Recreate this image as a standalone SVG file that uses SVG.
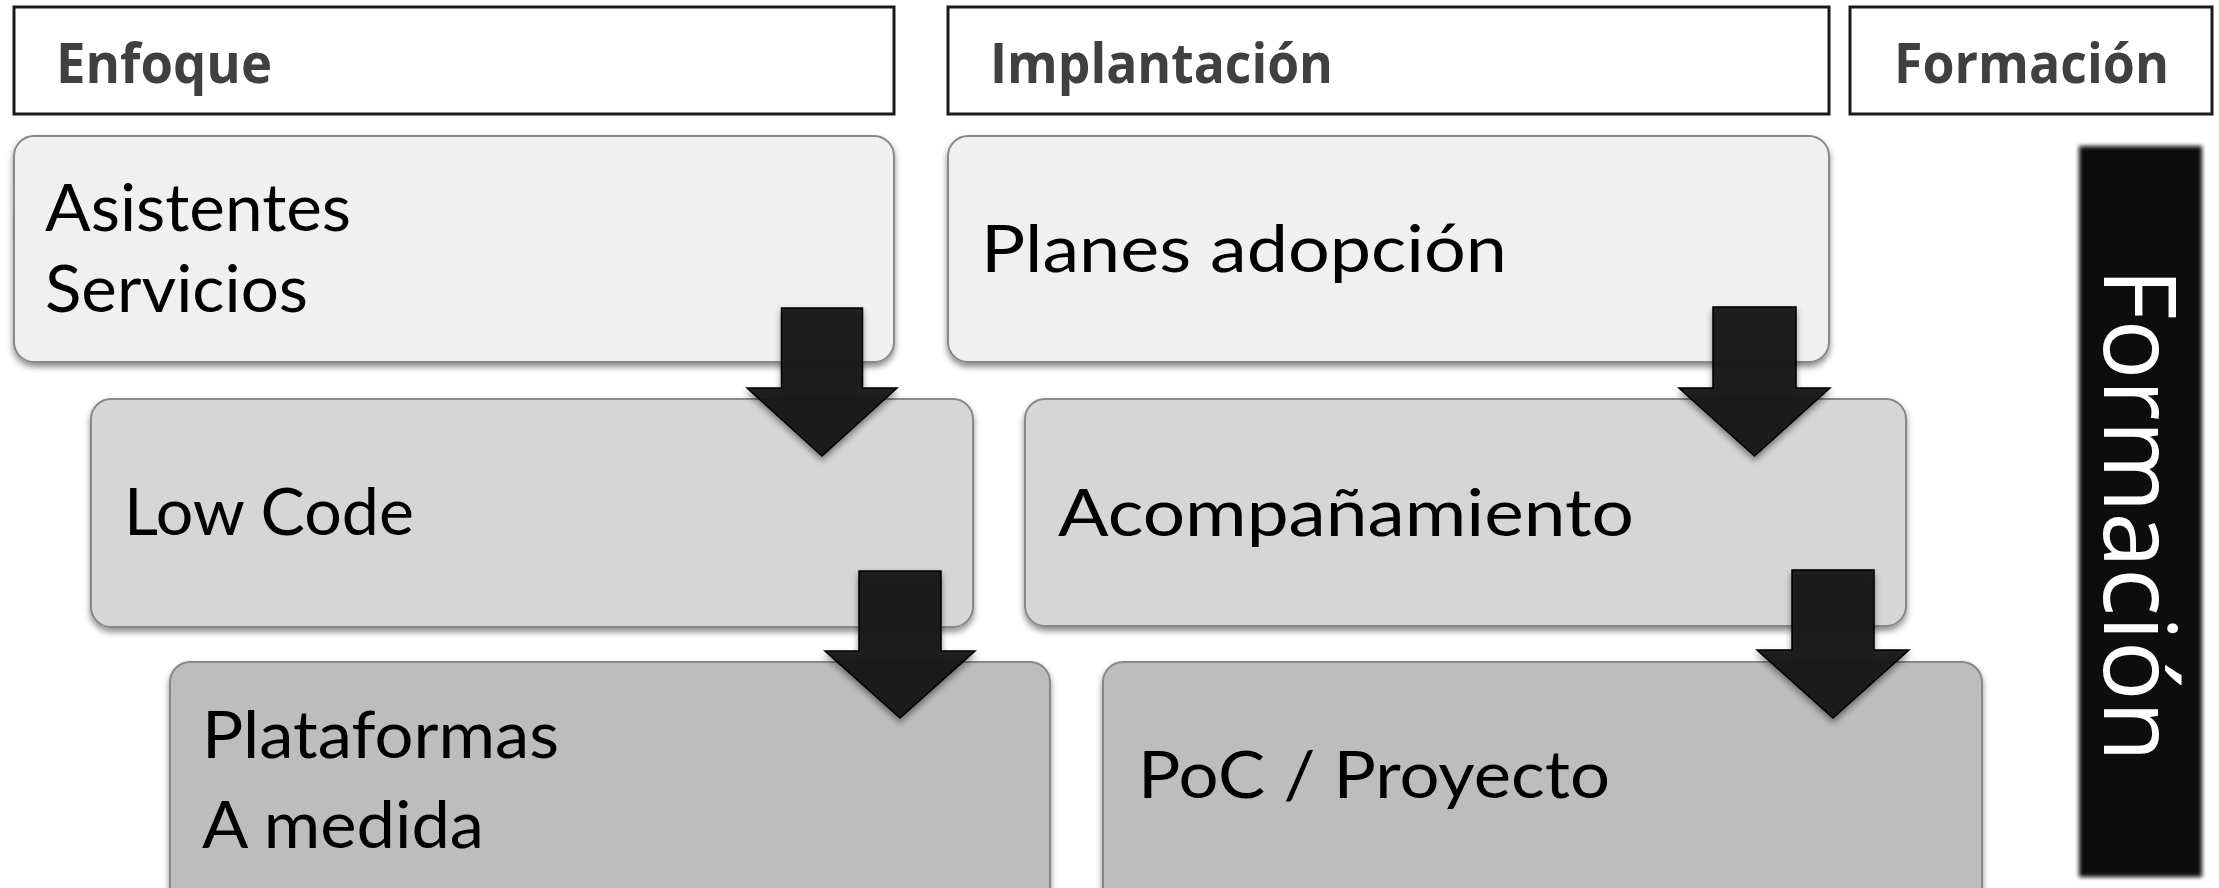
<svg xmlns="http://www.w3.org/2000/svg" width="2219" height="888" viewBox="0 0 2219 888">
<defs>
<filter id="sh" x="-5%" y="-10%" width="110%" height="125%">
<feDropShadow dx="0" dy="4" stdDeviation="3" flood-color="#000" flood-opacity="0.45"/>
</filter>
<filter id="blur" x="-10%" y="-5%" width="120%" height="110%">
<feGaussianBlur stdDeviation="2"/>
</filter>
<style>
.hdr{fill:#fff;stroke:#1a1a1a;stroke-width:3}
.htxt{font-family:"Open Sans","Liberation Sans",sans-serif;font-weight:bold;font-size:55px;fill:#404040}
.box{stroke:#888;stroke-width:2;filter:url(#sh)}
.l1{fill:#f0f0f0}
.l2{fill:#d6d6d6}
.l3{fill:#bdbdbd}
.btxt{font-family:Lato,"Open Sans","Liberation Sans",sans-serif;font-size:66px;fill:#000}
.arr{fill:#151515;fill-opacity:0.95;stroke:#000;stroke-width:1.5;stroke-linejoin:miter;filter:url(#sh)}
</style>
</defs>
<rect width="2219" height="888" fill="#fff"/>

<g id="hdr-enfoque">
<rect class="hdr" x="14" y="7" width="880" height="107"/>
<text class="htxt" x="56" y="83" textLength="216" lengthAdjust="spacingAndGlyphs">Enfoque</text>
</g>
<g id="hdr-implantacion">
<rect class="hdr" x="948" y="7" width="881" height="107"/>
<text class="htxt" x="990" y="83" textLength="343" lengthAdjust="spacingAndGlyphs">Implantación</text>
</g>
<g id="hdr-formacion">
<rect class="hdr" x="1850" y="7" width="362" height="107"/>
<text class="htxt" x="1894" y="83" textLength="275" lengthAdjust="spacingAndGlyphs">Formación</text>
</g>

<g id="asistentes">
<rect class="box l1" x="14" y="136" width="880" height="226" rx="20"/>
<text class="btxt" x="45" y="231" textLength="306" lengthAdjust="spacingAndGlyphs">Asistentes</text>
<text class="btxt" x="45" y="312" textLength="263" lengthAdjust="spacingAndGlyphs">Servicios</text>
</g>
<g id="planes">
<rect class="box l1" x="948" y="136" width="881" height="226" rx="20"/>
<text class="btxt" x="981" y="272" textLength="526" lengthAdjust="spacingAndGlyphs">Planes adopción</text>
</g>
<g id="lowcode">
<rect class="box l2" x="91" y="399" width="882" height="228" rx="20"/>
<text class="btxt" x="124" y="535" textLength="290" lengthAdjust="spacingAndGlyphs">Low Code</text>
</g>
<g id="acompanamiento">
<rect class="box l2" x="1025" y="399" width="881" height="227" rx="20"/>
<text class="btxt" x="1058" y="536" textLength="576" lengthAdjust="spacingAndGlyphs">Acompañamiento</text>
</g>
<g id="plataformas">
<rect class="box l3" x="170" y="662" width="880" height="250" rx="20"/>
<text class="btxt" x="202" y="758" textLength="357" lengthAdjust="spacingAndGlyphs">Plataformas</text>
<text class="btxt" x="202" y="848" textLength="282" lengthAdjust="spacingAndGlyphs">A medida</text>
</g>
<g id="poc">
<rect class="box l3" x="1103" y="662" width="879" height="250" rx="20"/>
<text class="btxt" x="1138" y="798" textLength="472" lengthAdjust="spacingAndGlyphs">PoC / Proyecto</text>
</g>

<g id="formacion-bar">
<rect x="2079" y="146" width="123" height="731" fill="#111" filter="url(#blur)"/>
<text transform="translate(2104,268) rotate(90)" x="0" y="0" font-family="'Open Sans','Liberation Sans',sans-serif" font-size="100" fill="#fff" textLength="494" lengthAdjust="spacingAndGlyphs">Formación</text>
</g>

<g id="connectors">
<polygon class="arr" points="781.5,308 862.5,308 862.5,388 897,388 822,456 747,388 781.5,388"/>
<polygon class="arr" points="859,571 941,571 941,651 975,651 900,718 825,651 859,651"/>
<polygon class="arr" points="1713,307 1796,307 1796,388 1830,388 1754.5,456 1679,388 1713,388"/>
<polygon class="arr" points="1792,570 1874,570 1874,650 1909,650 1833,718 1757,650 1792,650"/>
</g>
</svg>
